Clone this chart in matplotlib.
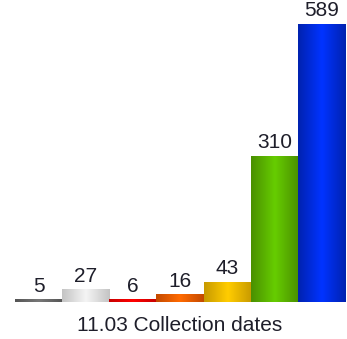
import matplotlib
matplotlib.use("Agg")
import matplotlib.pyplot as plt
import numpy as np
from matplotlib.colors import LinearSegmentedColormap

values = [5, 27, 6, 16, 43, 310, 589]
labels = ["5", "27", "6", "16", "43", "310", "589"]
edge_colors = ["#555555", "#c4c4c4", "#c80000", "#c44a00", "#c89a00", "#4a9000", "#0022b0"]
center_colors = ["#777777", "#f4f4f4", "#ff0000", "#ff6a00", "#ffcc00", "#66cc00", "#0033ff"]
xlabel = "11.03 Collection dates"

plt.rcParams['font.family'] = ['Liberation Sans', 'DejaVu Sans']

fig = plt.figure(figsize=(3.47, 3.39), dpi=100)
ax = fig.add_axes([15/347, 37/339, 330/347, 302/339])
x = np.arange(len(values))
ymax = 589 * 302 / 278
ax.set_xlim(-0.5, len(values) - 0.5)
ax.set_ylim(0, ymax)

min_h = 3 * ymax / 302
grad = np.linspace(0, 1, 64)
grad = 1 - np.abs(grad - 0.5) * 2
for i, v in enumerate(values):
    h = max(v, min_h)
    bar = ax.bar(x[i], h, width=1.0, color=center_colors[i], linewidth=0)[0]
    cmap = LinearSegmentedColormap.from_list("g%d" % i, [edge_colors[i], center_colors[i]])
    im = ax.imshow(grad[np.newaxis, :], cmap=cmap, aspect='auto',
                   extent=[x[i] - 0.5, x[i] + 0.5, 0, h], zorder=2)
    im.set_clip_path(bar)
    ax.text(x[i], h + 3.5 * ymax / 302, labels[i], ha='center', va='bottom',
            fontsize=15, color='#1e1e2a', zorder=3)

ax.set_xlim(-0.5, len(values) - 0.5)
ax.set_ylim(0, ymax)
for s in ax.spines.values():
    s.set_visible(False)
ax.set_xticks([])
ax.set_yticks([])
ax.set_xlabel(xlabel, fontsize=15, color='#1e1e2a', labelpad=10)

fig.savefig("out.png", dpi=100)
